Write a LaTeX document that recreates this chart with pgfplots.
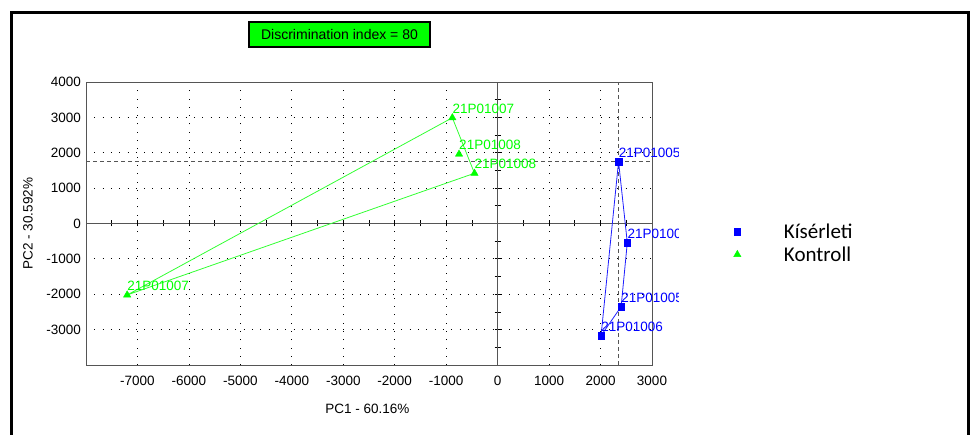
\documentclass[border=0pt]{standalone}
\usepackage{fontspec}
\setmainfont{Liberation Sans}
\newfontfamily\carlito{Carlito}
\usepackage{pgfplots}
\pgfplotsset{compat=1.18}
\definecolor{pgreen}{RGB}{0,255,0}
\definecolor{pblue}{RGB}{0,0,255}
\definecolor{lgreen}{RGB}{50,255,50}
\definecolor{lblue}{RGB}{30,30,255}
\definecolor{axgray}{RGB}{85,85,85}
\begin{document}
\begin{tikzpicture}[x=1pt,y=1pt]
\path[use as bounding box] (0,0) rectangle (972,434);
\draw[line width=3pt,black] (11,-5) -- (11,421) -- (968.5,421) -- (968.5,-5);
\node[draw=black,line width=1.8pt,fill=pgreen,minimum width=181pt,minimum height=25pt,inner sep=0pt,font=\fontsize{14}{16}\selectfont] at (339.5,399.5) {Discrimination index = 80};

% zero lines with ticks
\begin{axis}[
 at={(86pt,69pt)}, anchor=south west,
 scale only axis, width=566pt, height=283pt,
 xmin=-8000, xmax=3000, ymin=-4000, ymax=4000,
 axis lines=middle,
 axis line style={axgray,line width=1pt,-},
 xtick={-7500,-7000,...,2500}, ytick={-3500,-3000,...,3500},
 xticklabels={}, yticklabels={},
 tick align=center, major tick length=6pt,
 tick style={black,line width=0.8pt},
]
\addplot[draw=none,forget plot] coordinates {(0,0)};
\end{axis}

\begin{axis}[
 name=main,
 at={(86pt,69pt)}, anchor=south west,
 scale only axis, width=566pt, height=283pt,
 xmin=-8000, xmax=3000, ymin=-4000, ymax=4000,
 xtick={-7000,-6000,-5000,-4000,-3000,-2000,-1000,1000,2000},
 ytick={-3000,-2000,-1000,1000,2000,3000},
 extra x ticks={0,3000}, extra y ticks={0,4000},
 extra x tick style={grid=none}, extra y tick style={grid=none},
 scaled ticks=false,
 /pgf/number format/assume math mode=true,
 /pgf/number format/1000 sep={},
 tick label style={font=\fontsize{13.5}{15}\selectfont},
 xticklabel style={yshift=-8pt},
 yticklabel style={xshift=-1.5pt},
 major tick length=0pt,
 grid=major,
 major grid style={black, line width=0.8pt, dash pattern=on 0.8pt off 7.5pt},
 axis line style={axgray,line width=1pt},
 xlabel={PC1 - 60.16\%}, ylabel={PC2 - 30.592\%},
 label style={font=\fontsize{13.5}{15}\selectfont},
 xlabel style={at={(axis description cs:0.497,-0.155)},anchor=center},
 ylabel style={at={(axis description cs:-0.1025,0.5)},anchor=center},
 legend style={at={(axis description cs:1.144,0.508)}, anchor=north west, draw=none, fill=none, inner sep=0pt, row sep=3pt, font=\carlito\fontsize{21}{24}\selectfont},
 legend cell align=left,
 every node near coord/.append style={anchor=west, inner sep=0pt, yshift=9pt, font=\fontsize{13.5}{15}\selectfont},
]
% dashed reference lines
\addplot[axgray, line width=1.2pt, dash pattern=on 4pt off 3pt, forget plot] coordinates {(-8000,1750) (3000,1750)};
\addplot[axgray, line width=1.2pt, dash pattern=on 4pt off 3pt, forget plot] coordinates {(2350,-4000) (2350,4000)};
% hulls
\addplot[lgreen, line width=0.8pt, no marks, forget plot] coordinates {(-7200,-2020) (-880,2990) (-450,1420) (-7200,-2020)};
\addplot[lblue, line width=0.8pt, no marks, forget plot] coordinates {(2350,1750) (2520,-540) (2400,-2350) (2010,-3170) (2350,1750)};
% points
\addplot[only marks, mark=square*, mark size=3.3pt, pblue, nodes near coords, point meta=explicit symbolic, every node near coord/.append style={text=pblue}] table[meta=label] {
x y label
2350 1750 21P01005
2520 -540 21P01006
2400 -2350 21P01005
2010 -3170 21P01006
};
\addlegendentry{\hspace{41pt}Kísérleti}
\addplot[only marks, mark=triangle*, mark size=4.2pt, pgreen, nodes near coords, point meta=explicit symbolic, every node near coord/.append style={text=pgreen}] table[meta=label] {
x y label
-7200 -2020 21P01007
-880 2990 21P01007
-750 1960 21P01008
-450 1420 21P01008
};
\addlegendentry{\hspace{41pt}Kontroll}
\end{axis}
% labels are cut at the edge of the plot area, as in the reference
\fill[white] (679,69) rectangle (712,352);
\end{tikzpicture}
\end{document}
